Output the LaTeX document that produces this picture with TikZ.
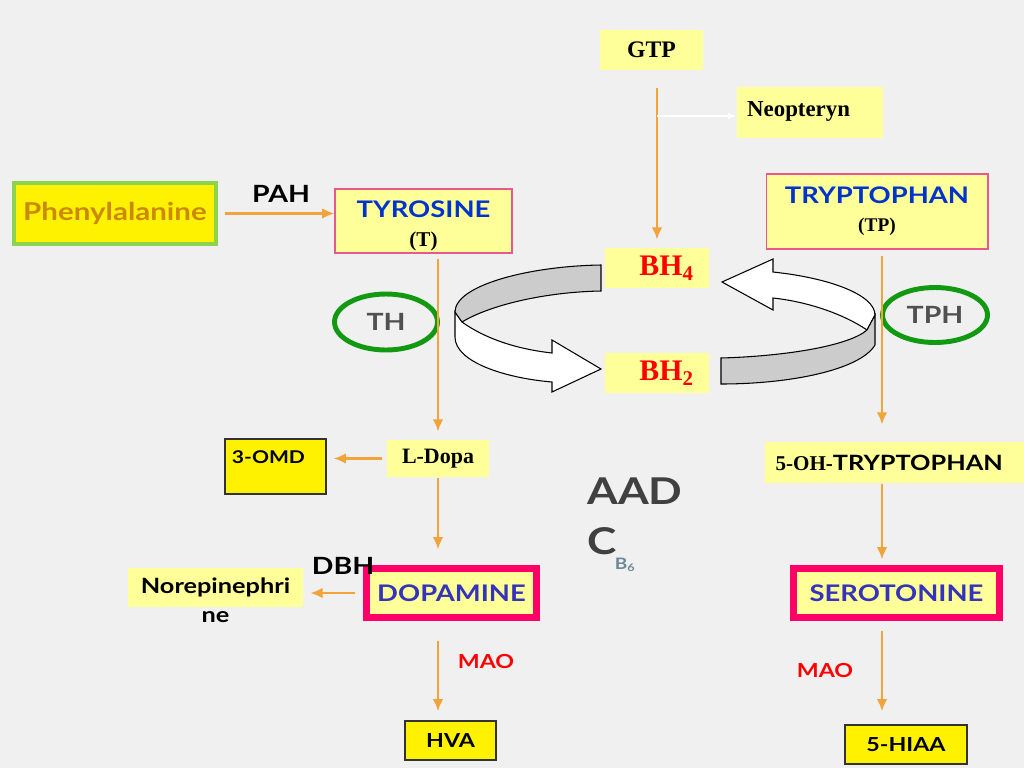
\documentclass[tikz,border=0pt]{standalone}
\usepackage{fontspec}
\setmainfont{Liberation Serif}
\setsansfont{Lato}[FakeStretch=1.2]
\usetikzlibrary{arrows.meta,shapes.geometric}

\definecolor{bgcol}{HTML}{F0F0F0}
\definecolor{paleyel}{HTML}{FFFF99}
\definecolor{flowor}{HTML}{F2A33A}
\definecolor{phgreen}{HTML}{8CD450}
\definecolor{phorange}{HTML}{CC8800}
\definecolor{boxpink}{HTML}{E8588A}
\definecolor{hotpink}{HTML}{FF0066}
\definecolor{aablue}{HTML}{0033CC}
\definecolor{amblue}{HTML}{3333BB}
\definecolor{enzgreen}{HTML}{119911}
\definecolor{enzgray}{HTML}{505050}
\definecolor{aadgray}{HTML}{404040}
\definecolor{bsixcol}{HTML}{6A8A9A}
\definecolor{ribgray}{HTML}{CCCCCC}

\newcommand{\fs}[1]{\fontsize{#1}{#1}\selectfont}

\tikzset{
  flow/.style={draw=flowor, line width=1.5pt, -{Latex[length=7pt,width=6pt]}},
  pale/.style={fill=paleyel, inner sep=0pt},
  framed/.style={pale, draw=boxpink, line width=0.6pt},
  hot/.style={pale, draw=hotpink, line width=4pt},
  bright/.style={fill=yellow, draw=black!80, line width=0.7pt, inner sep=0pt},
  enzyme/.style={ellipse, draw=enzgreen, line width=2.8pt, inner sep=0pt, text=enzgray, font=\sffamily\bfseries\fs{13.5}},
  tag/.style={inner sep=0pt, font=\sffamily\bfseries\fs{13.5}},
  ribbon/.style={draw=black, line width=0.6pt}
}

\begin{document}
\begin{tikzpicture}[x=0.02cm, y=-0.02cm]
\fill[bgcol] (0,0) rectangle (1024,768);
\useasboundingbox (0,0) rectangle (1024,768);

\fill[white, ribbon] (462,322) .. controls (490,342) and (525,350) .. (552,353) -- (552,340) -- (601,369) -- (552,392) -- (552,382) .. controls (505,378) and (455,362) .. (455,337) -- (455,312) -- cycle;
\fill[ribgray, ribbon] (601,265) .. controls (530,266) and (455,285) .. (455,312) -- (462,322) .. controls (490,305) and (545,292) .. (601,291) -- cycle;
\fill[white, ribbon] (773,272) .. controls (830,278) and (875,295) .. (875,315) -- (867,330) .. controls (845,315) and (810,302) .. (773,298) -- (773,310) -- (722,282) -- (773,259) -- cycle;
\fill[ribgray, ribbon] (875,315) -- (875,345) .. controls (860,370) and (790,384) .. (721,384) -- (721,358) .. controls (790,356) and (850,345) .. (867,330) -- cycle;

\node[bright, draw=phgreen, line width=2.2pt, minimum width=4.04cm, minimum height=1.22cm, text=phorange, font=\sffamily\bfseries\fs{14}] (phe) at (115,213.5) {Phenylalanine};
\node[tag] (pah) at (281,194) {PAH};
\node[framed, minimum width=3.54cm, minimum height=1.28cm, align=center] (tyr) at (423.5,221) {\rule{0pt}{15pt}{\sffamily\bfseries\fs{13}\color{aablue}TYROSINE}\\[5pt]{\bfseries\fs{12}(T)}};
\node[pale, minimum width=2.06cm, minimum height=0.8cm, font=\bfseries\fs{13.5}] (gtp) at (651.5,50) {GTP};
\node[pale, minimum width=2.92cm, minimum height=1.02cm, font=\bfseries\fs{13}] (neo) at (810,112.5) {\raisebox{4pt}{Neopteryn}\hspace*{13pt}};
\node[framed, minimum width=4.44cm, minimum height=1.5cm, align=center] (tryp) at (877,211.5) {{\sffamily\bfseries\fs{13}\color{aablue}TRYPTOPHAN}\\[4pt]{\bfseries\fs{11}(TP)}};
\node[pale, minimum width=2.08cm, minimum height=0.8cm, text=red, font=\bfseries\fs{17}] (bhf) at (657,268) {\hspace*{11pt}BH\textsubscript{4}};
\node[pale, minimum width=2.08cm, minimum height=0.8cm, text=red, font=\bfseries\fs{17}] (bht) at (657,373) {\hspace*{11pt}BH\textsubscript{2}};
\node[enzyme, minimum width=2.06cm, minimum height=1.12cm] (th) at (386,322) {TH};
\node[enzyme, minimum width=2.1cm, minimum height=1.1cm] (tph) at (935,315) {TPH};

\node[bright, minimum width=2.02cm, text height=0.48cm, text depth=0.62cm, anchor=base, font=\sffamily\bfseries\fs{10}] (omd) at (275.5,463) {3-OMD\hspace*{8pt}};
\node[pale, minimum width=2.04cm, minimum height=0.74cm, font=\bfseries\fs{12.5}] (ldopa) at (438,458.5) {L-Dopa};
\node[pale, minimum width=5.18cm, minimum height=0.82cm, font=\bfseries\fs{12}] (oh) at (894.5,462.5) {5-OH-{\sffamily TRYPTOPHAN}\hspace*{6pt}};
\node[inner sep=0pt, anchor=north west, align=left, text=aadgray, font=\sffamily\bfseries\fs{21}] (aad) at (587,477) {AAD\\[8pt]C\kern-1pt{\color{bsixcol}\fs{9}\raisebox{-8pt}{B\textsubscript{6}}}};

\node[hot, minimum width=3.4cm, minimum height=0.98cm, text=amblue, font=\sffamily\bfseries\fs{13}] (dopa) at (451.5,593) {DOPAMINE};
\node[tag] (dbh) at (343,566) {DBH};
\node[pale, minimum width=3.5cm, minimum height=0.78cm, font=\sffamily\bfseries\fs{12},
  label={[inner sep=0pt, label distance=0.08cm, font=\sffamily\bfseries\fs{12}]below:ne}] (norepi) at (215.5,587.5) {Norepinephri};
\node[hot, minimum width=4.12cm, minimum height=0.98cm, text=amblue, font=\sffamily\bfseries\fs{13}] (sero) at (896.5,593) {SEROTONINE};

\node[tag, text=red, font=\sffamily\bfseries\fs{11}] (maol) at (486,662) {MAO};
\node[tag, text=red, font=\sffamily\bfseries\fs{11}] (maor) at (825,670) {MAO};
\node[bright, minimum width=1.82cm, minimum height=0.78cm, font=\sffamily\bfseries\fs{11}] (hva) at (450.5,740.5) {HVA};
\node[bright, minimum width=2.44cm, minimum height=0.78cm, font=\sffamily\bfseries\fs{11}] (hiaa) at (906,744.5) {5-HIAA};

\coordinate (tcol) at (882,0);
\coordinate (branch) at (657,116);

\draw[flow, line width=1.8pt, shorten <=0.14cm] (phe.east) -- (tyr.west |- phe.east);
\draw[flow, shorten <=0.36cm, shorten >=0.16cm] (gtp.south -| bhf.north) -- (bhf.north);
\draw[white, line width=1.2pt, -{Latex[length=5pt,width=4pt]}] (branch) -- (neo.west |- branch);
\draw[flow, shorten <=0.1cm, shorten >=0.16cm] (tyr.south -| ldopa.north) -- (ldopa.north);
\draw[flow, shorten <=0.12cm, shorten >=0.34cm] (tryp.south -| tcol) -- (oh.north -| tcol);
\draw[flow, line width=1.2pt, shorten <=0.1cm, shorten >=0.14cm] (ldopa.west) -- (omd.east |- ldopa.west);
\draw[flow, shorten <=0.02cm, shorten >=0.31cm] (ldopa.south) -- (dopa.north -| ldopa.south);
\draw[flow, line width=1.2pt, shorten <=0.17cm, shorten >=0.14cm] (dopa.west) -- (norepi.east |- dopa.west);
\draw[flow, shorten <=0.02cm, shorten >=0.11cm] (oh.south -| tcol) -- (sero.north -| tcol);
\draw[flow, shorten <=0.39cm, shorten >=0.18cm] (dopa.south -| ldopa.south) -- (hva.north -| ldopa.south);
\draw[flow, shorten <=0.19cm, shorten >=0.26cm] (sero.south -| tcol) -- (hiaa.north -| tcol);
\end{tikzpicture}
\end{document}
